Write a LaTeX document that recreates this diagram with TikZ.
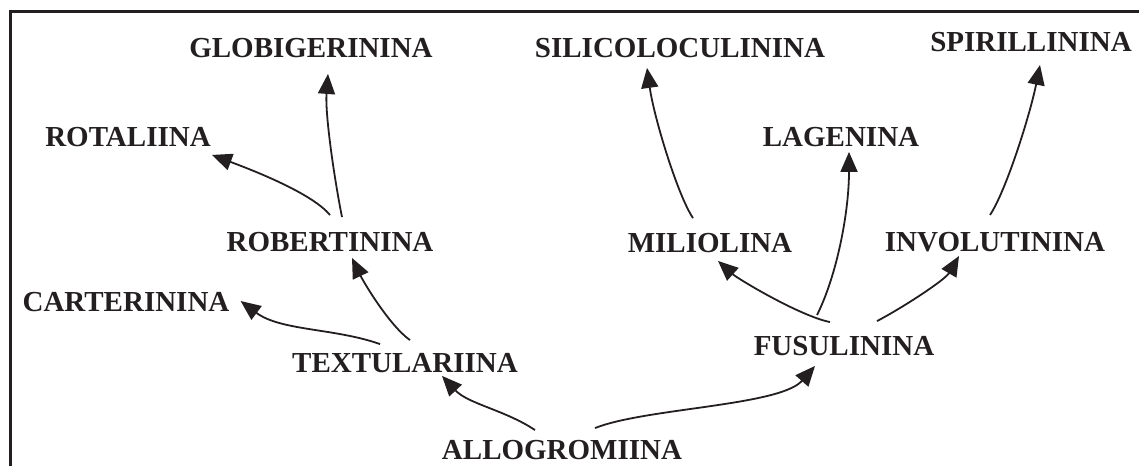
\documentclass[tikz,border=0pt]{standalone}
\usepackage{fontspec}
\setmainfont{Liberation Serif}
\definecolor{tinta}{HTML}{231F20}
\usetikzlibrary{
	arrows.meta
}
\tikzset{
	suborden/.style={
		inner sep=0pt,
		text=tinta,
		font=\fontsize{29pt}{34pt}\selectfont\bfseries
	},
	flecha/.style={
		-{Triangle[length=20pt,width=17pt]},
		line width=1.8pt,
		tinta
	},
	marco/.style={
		line width=3pt,
		tinta
	}
}

\begin{document}
\begin{tikzpicture}[x=1pt, y=1pt]
		\useasboundingbox (0,0) rectangle (1139,466);
		\draw[marco] (10,0) -- (10,454) -- (1139,454);
		\node[suborden] (allo) at (562,16) {ALLOGROMIINA};
		\node[suborden] (textu) at (405,103) {TEXTULARIINA};
		\node[suborden] (cart) at (126,164) {CARTERININA};
		\node[suborden] (robe) at (330,224) {ROBERTININA};
		\node[suborden] (rota) at (128,328.5) {ROTALIINA};
		\node[suborden] (glob) at (311,418) {GLOBIGERININA};
		\node[suborden] (fusu) at (844,120) {FUSULININA};
		\node[suborden] (mili) at (710,223) {MILIOLINA};
		\node[suborden] (invo) at (995,224) {INVOLUTININA};
		\node[suborden] (lage) at (841,329) {LAGENINA};
		\node[suborden] (sili) at (680,418) {SILICOLOCULININA};
		\node[suborden] (spir) at (1031,424) {SPIRILLININA};
		\draw[flecha] ([shift={(-27,10)}]allo.north) .. controls +(-30,20) and +(26,-28) .. ([shift={(37,-3)}]textu.south);
		\draw[flecha] ([shift={(-25,9)}]textu.north) .. controls +(-45,16) and +(40,-30) .. ([shift={(11,1)}]cart.east);
		\draw[flecha] ([shift={(5,13)}]textu.north) .. controls +(-20,14) and +(12,-25) .. ([shift={(22,-6)}]robe.south);
		\draw[flecha] ([shift={(0,17)}]robe.north) .. controls +(-18,22) and +(40,-15) .. ([shift={(1,-7.5)}]rota.south east);
		\draw[flecha] ([shift={(12,15)}]robe.north) .. controls +(-8,40) and +(-3,-40) .. ([shift={(17,-16)}]glob.south);
		\draw[flecha] ([shift={(33,12)}]allo.north) .. controls +(50,20) and +(-35,-40) .. ([shift={(-29,-10)}]fusu.south);
		\draw[flecha] ([shift={(-14,14)}]fusu.north) .. controls +(-30,6) and +(20,-18) .. ([shift={(8,-8)}]mili.south);
		\draw[flecha] ([shift={(-27,21)}]fusu.north) .. controls +(20,40) and +(0,-60) .. ([shift={(8,-5)}]lage.south);
		\draw[flecha] ([shift={(33,15)}]fusu.north) .. controls +(25,13) and +(-14,-24) .. ([shift={(-36,-4)}]invo.south);
		\draw[flecha] ([shift={(-17,15)}]mili.north) .. controls +(-15,22) and +(7,-50) .. ([shift={(-33,-10)}]sili.south);
		\draw[flecha] ([shift={(-5,17)}]invo.north) .. controls +(16,24) and +(-10,-50) .. ([shift={(9,-13)}]spir.south);
	\end{tikzpicture}
\end{document}
